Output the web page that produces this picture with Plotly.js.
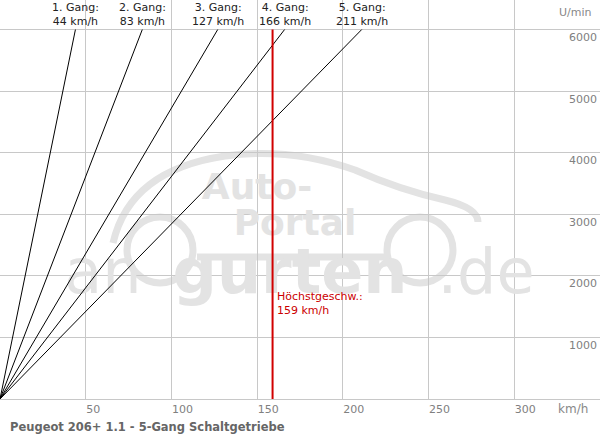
<!DOCTYPE html>
<html>
<head>
<meta charset="utf-8">
<script src="https://cdn.plot.ly/plotly-3.0.1.min.js"></script>
<style>
html,body{margin:0;padding:0;background:#fff;}
#chart{width:600px;height:440px;}
</style>
</head>
<body>
<div id="chart"></div>
<script>
// ---- data ----
const gears = ["1. Gang:", "2. Gang:", "3. Gang:", "4. Gang:", "5. Gang:"];
const gearSpeeds = [44, 83, 127, 166, 211];      // km/h at max rpm
const maxRpm = 6000;
const topSpeed = 159;                              // km/h
const xTicks = [50, 100, 150, 200, 250, 300];
const yTicks = [1000, 2000, 3000, 4000, 5000, 6000];
const titleText = "Peugeot 206+ 1.1 - 5-Gang Schaltgetriebe";

// ---- layout helpers (pixel -> data for decorative watermark) ----
const XR = [0, 350], YR = [0, 6480];
const PW = 600, PH = 399;
const px = p => XR[0] + p / PW * (XR[1] - XR[0]);
const py = p => YR[0] + (PH - p) / PH * (YR[1] - YR[0]);
const wmColor = "#e3e3e3";

const traces = [];

// watermark text (drawn first so lines appear above)
traces.push({
  type: "scatter", mode: "text", hoverinfo: "skip", showlegend: false,
  x: [px(257), px(295)], y: [py(190), py(226)],
  text: ["Auto-", "Portal"],
  textfont: {family: "DejaVu Sans", size: 36, color: wmColor, weight: "bold"},
  textposition: "middle center"
});
traces.push({
  type: "scatter", mode: "text", hoverinfo: "skip", showlegend: false,
  x: [px(103), px(486)], y: [py(277), py(277)],
  text: ["an", ".de"],
  textfont: {family: "DejaVu Sans", size: 62, color: wmColor},
  textposition: "middle center"
});
traces.push({
  type: "scatter", mode: "text", hoverinfo: "skip", showlegend: false,
  x: [px(290)], y: [py(277)],
  text: ["gurten"],
  textfont: {family: "DejaVu Sans", size: 62, color: wmColor, weight: "bold"},
  textposition: "middle center"
});

// gear lines
gearSpeeds.forEach((s, i) => {
  traces.push({
    type: "scatter", mode: "lines", showlegend: false, hoverinfo: "skip",
    x: [0, s], y: [0, maxRpm],
    line: {color: "#000000", width: 1}
  });
});

// top speed line
traces.push({
  type: "scatter", mode: "lines", showlegend: false, hoverinfo: "skip",
  x: [topSpeed, topSpeed], y: [0, maxRpm],
  line: {color: "#d10000", width: 2}
});

const annotations = [];
gearSpeeds.forEach((s, i) => {
  annotations.push({
    xref: "x", yref: "paper", x: s, y: 1, yanchor: "top", xanchor: "center",
    text: gears[i] + "<br>" + s + " km/h", showarrow: false,
    font: {family: "DejaVu Sans", size: 11, color: "#222222"},
    align: "center", yshift: 1
  });
});
annotations.push({
  xref: "x", yref: "y", x: topSpeed, y: py(288), xanchor: "left", yanchor: "top",
  text: "Höchstgeschw.:<br>" + topSpeed + " km/h", showarrow: false, align: "left",
  font: {family: "DejaVu Sans", size: 11, color: "#cc0000"}, xshift: 2
});
annotations.push({
  xref: "paper", yref: "paper", x: 1, y: 1, xanchor: "right", yanchor: "top",
  text: "U/min", showarrow: false, xshift: -6, yshift: -4,
  font: {family: "DejaVu Sans", size: 11, color: "#888888"}
});
annotations.push({
  xref: "paper", yref: "paper", x: 1, y: 0, xanchor: "right", yanchor: "top",
  text: "km/h", showarrow: false, xshift: -10, yshift: -1,
  font: {family: "DejaVu Sans", size: 12, color: "#888888"}
});

const shapes = [
  {type: "path", layer: "below", xref: "x", yref: "y",
   path: `M ${px(113)} ${py(243)} Q ${px(130)} ${py(170)} ${px(225)} ${py(156)} Q ${px(290)} ${py(147)} ${px(355)} ${py(170)} Q ${px(400)} ${py(190)} ${px(445)} ${py(200)} Q ${px(478)} ${py(208)} ${px(478)} ${py(222)}`,
   line: {color: wmColor, width: 7}},
  {type: "circle", layer: "below", xref: "x", yref: "y",
   x0: px(127), x1: px(193), y0: py(283), y1: py(217), line: {color: wmColor, width: 7}},
  {type: "circle", layer: "below", xref: "x", yref: "y",
   x0: px(387), x1: px(453), y0: py(283), y1: py(217), line: {color: wmColor, width: 7}},
  {type: "line", layer: "below", xref: "x", yref: "y",
   x0: px(197), x1: px(387), y0: py(257), y1: py(257), line: {color: wmColor, width: 7}}
];

const layout = {
  width: 600, height: 440,
  margin: {l: 0, r: 0, t: 0, b: 41, pad: 0},
  paper_bgcolor: "#ffffff", plot_bgcolor: "#ffffff",
  showlegend: false,
  title: {text: "<b>" + titleText + "</b>", x: 0, xref: "paper", xanchor: "left", y: 0, yref: "container", yanchor: "bottom",
          pad: {l: 10, b: 9}, font: {family: "DejaVu Sans", size: 11.5, color: "#666666"}},
  xaxis: {range: XR, tickvals: xTicks, ticktext: xTicks.map(String), ticks: "", showgrid: true,
          gridcolor: "#c8c8c8", gridwidth: 1, zeroline: false, showline: true, linecolor: "#c8c8c8", linewidth: 1,
          ticklabelposition: "outside right", tickfont: {family: "DejaVu Sans", size: 11, color: "#808080"},
          fixedrange: true},
  yaxis: {range: YR, tickvals: yTicks, ticktext: yTicks.map(String), ticks: "", side: "right", showgrid: true,
          gridcolor: "#c8c8c8", gridwidth: 1, zeroline: false, showline: false,
          ticklabelposition: "inside bottom", tickfont: {family: "DejaVu Sans", size: 11, color: "#808080"},
          fixedrange: true},
  annotations: annotations,
  shapes: shapes
};

Plotly.newPlot("chart", traces, layout, {displayModeBar: false, staticPlot: true});
</script>
</body>
</html>
